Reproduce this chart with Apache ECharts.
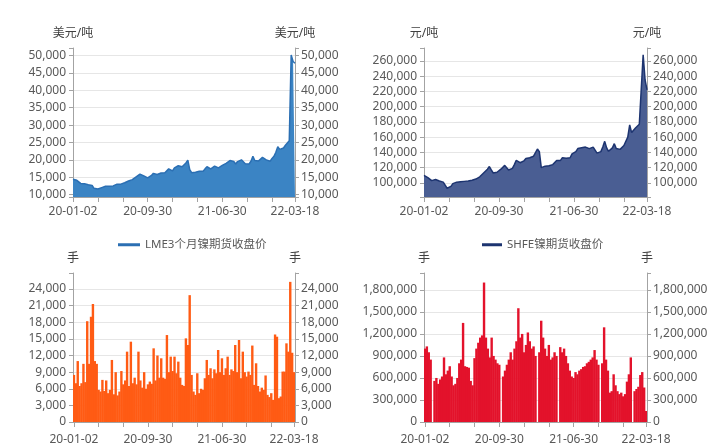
<!DOCTYPE html>
<html><head><meta charset="utf-8">
<script src="https://cdn.jsdelivr.net/npm/echarts@6/dist/echarts.min.js"></script>
<style>html,body{margin:0;padding:0;background:#fff}#c{width:720px;height:448px}</style>
</head><body><div id="c"></div>
<script>
const categories = ['20-01-02',
'20-01-08','20-01-15','20-01-22','20-01-29','20-02-05','20-02-12','20-02-19','20-02-26','20-03-04','20-03-11','20-03-18','20-03-25',
'20-04-01','20-04-08','20-04-15','20-04-22','20-04-29','20-05-06','20-05-13','20-05-20','20-05-27','20-06-03','20-06-10','20-06-17','20-06-24',
'20-07-01','20-07-08','20-07-15','20-07-22','20-07-29','20-08-05','20-08-12','20-08-19','20-08-26','20-09-02','20-09-09','20-09-16','20-09-23',
'20-09-30','20-10-07','20-10-14','20-10-21','20-10-28','20-11-04','20-11-11','20-11-18','20-11-25','20-12-02','20-12-09','20-12-16','20-12-23',
'20-12-30','21-01-06','21-01-13','21-01-20','21-01-27','21-02-03','21-02-10','21-02-17','21-02-24','21-03-03','21-03-10','21-03-17','21-03-24',
'21-03-31','21-04-07','21-04-14','21-04-21','21-04-28','21-05-05','21-05-12','21-05-19','21-05-26','21-06-02','21-06-09','21-06-16','21-06-23',
'21-06-30','21-07-07','21-07-14','21-07-21','21-07-28','21-08-04','21-08-11','21-08-18','21-08-25','21-09-01','21-09-08','21-09-15','21-09-22',
'21-09-29','21-10-06','21-10-13','21-10-20','21-10-27','21-11-03','21-11-10','21-11-17','21-11-24','21-12-01','21-12-08','21-12-15','21-12-22',
'21-12-29','22-01-05','22-01-12','22-01-19','22-01-26','22-02-02','22-02-09','22-02-16','22-02-23','22-03-02','22-03-09','22-03-16',
'22-03-18'];

const tickDates = ['20-01-02','20-04-01','20-07-01','20-09-30','20-12-30','21-03-31','21-06-30','21-09-29','21-12-29','22-03-18'];
const labelDates = ['20-01-02','20-09-30','21-06-30','22-03-18'];

// LME 3-month nickel close, USD/t
const lmePrice = [
14400,14300,14100,13800,13200,13300,13100,13100,12800,13000,
12600,11800,11500,11600,11900,12000,12300,12400,12500,12400,
12600,12500,12700,13000,13100,13000,13200,13400,13600,13900,
14100,14300,14600,15100,15600,15900,15600,15400,14900,14800,
15200,15500,16100,15900,15800,16100,16200,16300,16300,16800,
17400,17200,16800,17700,18100,18300,18100,18000,18500,19100,
19900,17200,16300,16500,16400,16300,16700,16600,16700,17400,
18000,18100,17400,17900,18200,18100,17700,18200,18400,18700,
19000,19300,19800,19600,19500,18800,19500,19400,20000,19800,
18900,18400,18800,19600,21000,19800,19500,19700,20200,20700,
20200,20000,19800,19600,20400,21000,22200,23800,23000,22900,
23400,24200,24700,25500,50200,48300,47800];

// SHFE nickel close, CNY/t
const shfePrice = [
110000,109000,107000,104500,103000,104000,104500,103000,102500,101500,
101000,97000,93000,92500,95500,99000,100500,101000,102000,101500,
102500,102000,103000,102500,102000,103500,104000,105000,106000,108000,
110500,113000,115000,118000,121500,117000,113000,112000,114000,116500,
118000,117000,123000,120000,117000,117500,119000,124000,129500,127000,
126500,128500,129000,132000,134500,133000,131000,135000,137000,144500,
141000,120000,121000,122000,120500,122500,121000,124000,122000,129500,
131000,129500,133000,131000,132500,134000,133000,138000,139500,141000,
145000,143000,146000,145000,147000,149500,145000,143000,147000,145500,
139000,140000,141000,147000,154500,146000,141500,142000,146000,151500,
145000,143000,144000,142500,149000,150000,160000,176000,166000,167000,
172000,174000,177000,179000,268000,235000,222000];

// LME nickel volume, lots
const lmeVolume = [
8500,7000,11000,6500,7000,10500,7200,18200,10500,19000,
21300,11000,10500,5800,5500,7600,5600,7500,5200,5800,
11200,5000,9000,4800,5500,9200,6800,7500,12700,6500,
14500,7000,8000,6800,12700,7500,6200,9000,6000,6800,
7300,6900,13300,7500,12000,8000,11500,8000,7800,15700,
9000,11800,9200,11800,8800,10900,8000,6700,6500,15100,
13900,22900,8500,5500,4900,8800,5200,6000,5800,7900,
11200,8500,9700,7900,9500,8800,13000,9000,11500,8500,
9700,11800,8500,9500,9200,13900,9000,14800,7900,12700,
9000,8200,9100,8500,13800,6700,10600,6500,5500,6200,
5800,8400,4900,4500,5200,4000,15800,15400,4300,4600,
9100,9100,14200,12700,25300,12500,9000];

// SHFE nickel volume, lots
const shfeVolume = [
1000000,1030000,950000,850000,0,560000,600000,520000,580000,620000,
880000,650000,700000,760000,620000,500000,520000,600000,800000,850000,
1350000,760000,750000,740000,560000,500000,870000,1000000,1080000,1150000,
1180000,1900000,1150000,1000000,880000,1150000,900000,850000,800000,780000,
0,620000,700000,780000,850000,950000,850000,1000000,1100000,1550000,
1150000,1200000,950000,1050000,1220000,1100000,1000000,1030000,900000,0,
950000,1380000,1150000,1000000,900000,1050000,850000,880000,950000,900000,
0,1020000,950000,1000000,900000,800000,700000,620000,600000,680000,
650000,700000,720000,750000,760000,800000,820000,850000,880000,980000,
850000,780000,0,800000,1290000,850000,700000,400000,420000,650000,
500000,420000,380000,400000,350000,380000,550000,650000,880000,0,
420000,450000,480000,640000,680000,470000,150000];

const FONT = "'Noto Sans','Noto Sans CJK SC',sans-serif";
const AX = '#a3a3a3';
const fmt = v => String(v).replace(/\B(?=(\d{3})+(?!\d))/g, ',');

function yAxes(gi, min, max, step, extra, unit) {
  const mk = pos => Object.assign({
    type: 'value', gridIndex: gi, position: pos, min: min, max: max,
    name: unit, nameLocation: 'end', nameGap: 8,
    nameTextStyle: {color: '#404040', fontSize: 12, fontFamily: FONT, align: 'center'},
    axisLine: {show: true, lineStyle: {color: AX, width: 1}},
    axisTick: {show: true, length: 4, lineStyle: {color: AX}},
    axisLabel: {color: '#595959', fontSize: 12, fontFamily: FONT, margin: pos === 'left' ? 7 : 6,
      formatter: v => (Math.abs(v % step) < 1e-6 ? fmt(v) : '')},
    splitLine: {show: pos === 'left', showMinLine: false, showMaxLine: false, lineStyle: {color: '#e6e6e6', width: 1}}
  }, extra);
  return [mk('left'), mk('right')];
}

function xAxis(gi, boundaryGap, margin) {
  return {
    type: 'category', gridIndex: gi, data: categories, boundaryGap: boundaryGap,
    axisLine: {show: true, onZero: false, lineStyle: {color: AX}},
    axisTick: {show: true, length: 5, alignWithLabel: true, interval: (i, v) => tickDates.includes(v), lineStyle: {color: AX}},
    axisLabel: {color: '#595959', fontSize: 12, fontFamily: FONT, margin: margin, interval: (i, v) => labelDates.includes(v)},
    splitLine: {show: false}
  };
}

const legendText = {color: '#595959', fontSize: 11.5, fontFamily: FONT};

const option = {
  animation: false,
  backgroundColor: '#fff',
  grid: [
    {left: 73, top: 48, width: 222, height: 149},
    {left: 424, top: 48, width: 223, height: 149},
    {left: 73, top: 273, width: 222, height: 149},
    {left: 424, top: 273, width: 223, height: 149}
  ],
  legend: [
    {data: [{name: 'LME3个月镍期货收盘价', itemStyle: {color: '#2b6fb3'}}], left: 113, top: 234, icon: 'rect',
     itemWidth: 22, itemHeight: 3, itemGap: 4, selectedMode: false, textStyle: legendText},
    {data: [{name: 'SHFE镍期货收盘价', itemStyle: {color: '#1d3470'}}], left: 477, top: 234, icon: 'rect',
     itemWidth: 20, itemHeight: 3, itemGap: 4, selectedMode: false, textStyle: legendText}
  ],
  xAxis: [xAxis(0, false, 9), xAxis(1, false, 9), xAxis(2, true, 12), xAxis(3, true, 12)],
  yAxis: [].concat(
    yAxes(0, 9300, 52200, 5000, {splitNumber: 8}, '美元/吨'),
    yAxes(1, 81500, 277000, 20000, {splitNumber: 10}, '元/吨'),
    yAxes(2, 0, 26900, 3000, {interval: 3000}, '手'),
    yAxes(3, 0, 2030000, 300000, {interval: 300000}, '手')
  ),
  series: [
    {name: 'LME3个月镍期货收盘价', type: 'line', xAxisIndex: 0, yAxisIndex: 0, data: lmePrice,
     symbol: 'none', showSymbol: false, lineStyle: {color: '#2b6fb3', width: 1.5}, itemStyle: {color: '#2b6fb3'},
     areaStyle: {color: '#3b84c4', opacity: 1, origin: 'start'}},
    {name: 'SHFE镍期货收盘价', type: 'line', xAxisIndex: 1, yAxisIndex: 2, data: shfePrice,
     symbol: 'none', showSymbol: false, lineStyle: {color: '#1d3470', width: 1.5}, itemStyle: {color: '#1d3470'},
     areaStyle: {color: '#4a5e93', opacity: 1, origin: 'start'}},
    {name: 'LME镍成交量', type: 'bar', xAxisIndex: 2, yAxisIndex: 4, data: lmeVolume,
     barWidth: 2.4, itemStyle: {color: '#ff5b14'}},
    {name: 'SHFE镍成交量', type: 'bar', xAxisIndex: 3, yAxisIndex: 6, data: shfeVolume,
     barWidth: 2.4, itemStyle: {color: '#e3122b'}}
  ]
};

const chart = echarts.init(document.getElementById('c'), null, {renderer: 'canvas'});
chart.setOption(option);
</script>
</body></html>
